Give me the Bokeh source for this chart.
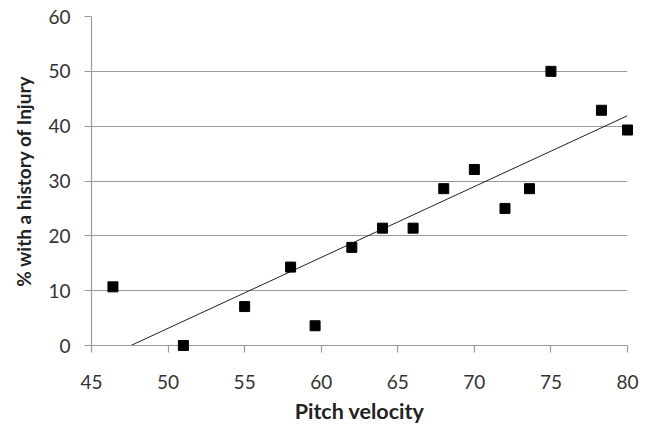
import numpy as np
from bokeh.plotting import figure
from bokeh.models import Range1d, FixedTicker
from bokeh.embed import file_html
from bokeh.resources import INLINE

# Data
pitch_velocity = [46.4, 51, 55, 58, 59.6, 62, 64, 66, 68, 70, 72, 73.6, 75, 78.3, 80]
injury_pct = [10.7, 0, 7.1, 14.3, 3.6, 17.9, 21.4, 21.4, 28.6, 32.1, 25, 28.6, 50, 42.9, 39.3]
x_ticks = [45, 50, 55, 60, 65, 70, 75, 80]
y_ticks = [0, 10, 20, 30, 40, 50, 60]

FONT = "Lato"
GRID = "#9a9a9a"

p = figure(width=646, height=429, output_backend="svg", toolbar_location=None,
           x_range=Range1d(45, 80), y_range=Range1d(0, 60),
           min_border_left=91, min_border_right=19, min_border_top=16, min_border_bottom=84)
p.outline_line_color = None
p.background_fill_color = "white"
p.border_fill_color = "white"

# linear trend line (least squares fit of the data)
slope, intercept = np.polyfit(pitch_velocity, injury_pct, 1)
x_start = -intercept / slope
x_end = max(pitch_velocity)
trend = p.line([x_start, x_end], [0, slope * x_end + intercept], line_color="#222222", line_width=1)

pts = p.scatter(pitch_velocity, injury_pct, marker="square", size=10, fill_color="black", line_color="black")
pts.level = "overlay"

p.xgrid.visible = False
p.ygrid.grid_line_color = GRID
p.ygrid.grid_line_width = 1.2
p.ygrid.ticker = FixedTicker(ticks=y_ticks)

for ax in (p.xaxis[0], p.yaxis[0]):
    ax.axis_line_color = GRID
    ax.axis_line_width = 1.2
    ax.major_tick_line_color = GRID
    ax.major_tick_line_width = 1.2
    ax.major_tick_in = 0
    ax.major_tick_out = 7
    ax.minor_tick_line_color = None
    ax.major_label_text_font = FONT
    ax.major_label_text_font_size = "19px"
    ax.major_label_text_color = "#333333"
    ax.axis_label_text_font = FONT
    ax.axis_label_text_font_style = "bold"
    ax.axis_label_text_color = "#222222"

p.xaxis.axis_label_text_font_size = "21.5px"
p.yaxis.axis_label_text_font_size = "19px"
p.xaxis.ticker = FixedTicker(ticks=x_ticks)
p.yaxis.ticker = FixedTicker(ticks=y_ticks)
p.xaxis.axis_label = "Pitch velocity"
p.yaxis.axis_label = "% with a history of Injury"
p.xaxis.major_label_standoff = 22
p.yaxis.major_label_standoff = 14
p.xaxis.axis_label_standoff = 6
p.yaxis.axis_label_standoff = 10

open("out.html", "w").write(file_html(p, INLINE))
